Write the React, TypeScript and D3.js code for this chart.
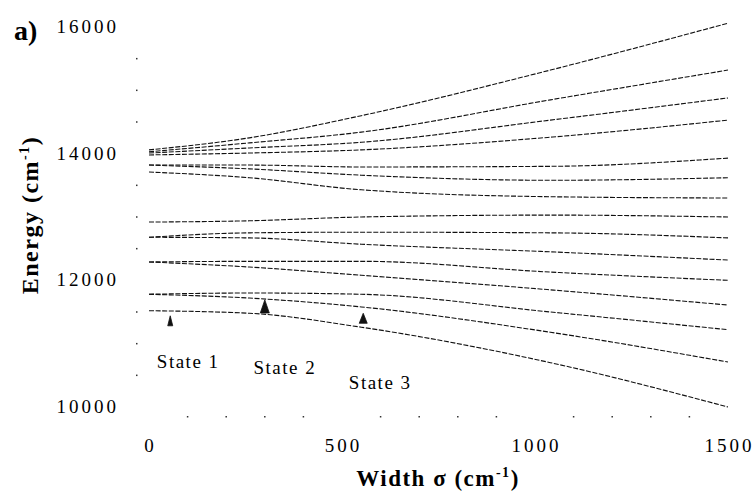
import * as d3 from "d3"
import { useEffect, useRef } from "react"

const sigma = [0, 260, 550, 1040, 1500]

// upper bundle of levels (cm-1)
const upperLevels = [
	[14060, 14250, 14600, 15320, 16060],
	[14030, 14170, 14340, 14850, 15320],
	[14010, 14090, 14180, 14530, 14880],
	[13980, 14010, 14060, 14260, 14530],
	[13820, 13820, 13790, 13800, 13930],
	[13820, 13760, 13660, 13580, 13620],
	[13710, 13620, 13430, 13320, 13300],
]

// lower bundle of levels (cm-1)
const lowerLevels = [
	[12920, 12940, 13000, 13030, 13000],
	[12680, 12750, 12760, 12750, 12670],
	[12680, 12670, 12570, 12450, 12320],
	[12290, 12300, 12300, 12130, 12000],
	[12290, 12210, 12080, 11850, 11610],
	[11780, 11800, 11780, 11500, 11220],
	[11780, 11720, 11580, 11180, 10710],
	[11520, 11480, 11260, 10700, 10000],
]

const xTicks = [0, 500, 1000, 1500]
const yTicks = [10000, 12000, 14000, 16000]

const stateNames = ["State 1", "State 2", "State 3"]
const stateSigma = [55, 300, 555]
const stateEnergy = [11440, 11690, 11480]

export default function App() {

	const svgRef = useRef<SVGSVGElement>(null)

	useEffect(() => {
		const svg = d3.select(svgRef.current)
		svg.selectAll("*").remove()

		const x = d3.scaleLinear().domain([0, 1500]).range([149, 728])
		const y = d3.scaleLinear().domain([10000, 16000]).range([407, 27])

		const serif = "'Liberation Serif', 'Times New Roman', serif"

		// minor tick dots on the left (every 500) and bottom (every 100)
		const yMinor = d3.range(10500, 16000, 500).filter(v => v % 2000 !== 0)
		svg.append("g")
			.selectAll("rect")
			.data(yMinor)
			.enter()
			.append("rect")
			.attr("x", 136)
			.attr("y", d => y(d) - 0.75)
			.attr("width", 1.5)
			.attr("height", 1.5)
			.attr("fill", "#333")

		const xMinor = d3.range(100, 1500, 100).filter(v => v % 500 !== 0)
		svg.append("g")
			.selectAll("rect")
			.data(xMinor)
			.enter()
			.append("rect")
			.attr("x", d => x(d) - 0.75)
			.attr("y", 416)
			.attr("width", 1.5)
			.attr("height", 1.5)
			.attr("fill", "#333")

		// tick labels
		svg.append("g")
			.selectAll("text")
			.data(yTicks)
			.enter()
			.append("text")
			.attr("x", 119)
			.attr("y", d => y(d) + 6)
			.attr("text-anchor", "end")
			.style("font-family", serif)
			.style("font-size", "19px")
			.style("letter-spacing", "3px")
			.text(d => d)

		svg.append("g")
			.selectAll("text")
			.data(xTicks)
			.enter()
			.append("text")
			.attr("x", d => x(d) + 1.5)
			.attr("y", 452)
			.attr("text-anchor", "middle")
			.style("font-family", serif)
			.style("font-size", "19px")
			.style("letter-spacing", "3px")
			.text(d => d)

		// axis titles
		const xTitle = svg.append("text")
			.attr("x", 438)
			.attr("y", 486)
			.attr("text-anchor", "middle")
			.style("font-family", serif)
			.style("font-weight", "bold")
			.style("font-size", "23px")
			.style("letter-spacing", "1.5px")
		xTitle.append("tspan").text("Width σ  (cm")
		xTitle.append("tspan").attr("dy", -9).style("font-size", "14px").text("-1")
		xTitle.append("tspan").attr("dy", 9).text(")")

		const yTitle = svg.append("text")
			.attr("transform", "translate(38, 215) rotate(-90)")
			.attr("text-anchor", "middle")
			.style("font-family", serif)
			.style("font-weight", "bold")
			.style("font-size", "24px")
			.style("letter-spacing", "1.5px")
		yTitle.append("tspan").text("Energy (cm")
		yTitle.append("tspan").attr("dy", -9).style("font-size", "14px").text("-1")
		yTitle.append("tspan").attr("dy", 9).text(")")

		// panel letter
		svg.append("text")
			.attr("x", 14)
			.attr("y", 40)
			.style("font-family", serif)
			.style("font-weight", "bold")
			.style("font-size", "28px")
			.text("a)")

		// energy levels
		const line = d3.line<number>()
			.x((d, i) => x(sigma[i]))
			.y(d => y(d))
			.curve(d3.curveMonotoneX)

		svg.append("g")
			.selectAll("path")
			.data([...upperLevels, ...lowerLevels])
			.enter()
			.append("path")
			.attr("d", d => line(d))
			.attr("fill", "none")
			.attr("stroke", "#111")
			.attr("stroke-width", 1.1)
			.attr("stroke-dasharray", "5,1.6")

		// state markers (arrow heads pointing at the level)
		const markerSize = [[2.5, 10], [4.5, 13], [4, 10]]
		const labelOffset = [[18, 52], [20, 74], [17, 76]]

		stateNames.forEach((name, i) => {
			const cx = x(stateSigma[i])
			const cy = y(stateEnergy[i])
			const [w, h] = markerSize[i]
			svg.append("path")
				.attr("d", `M${cx},${cy} L${cx + w},${cy + h} L${cx - w},${cy + h} Z`)
				.attr("fill", "#111")
				.attr("stroke", "#111")
				.attr("stroke-width", 0.8)

			svg.append("text")
				.attr("x", cx + labelOffset[i][0])
				.attr("y", cy + labelOffset[i][1])
				.attr("text-anchor", "middle")
				.style("font-family", serif)
				.style("font-size", "19px")
				.style("letter-spacing", "1.5px")
				.text(name)
		})

	}, [])

	return (
		<svg
			ref={svgRef}
			width={755}
			height={495}
			style={{ position: "absolute", left: 0, top: 0, background: "#fff" }}
		/>
	)
}
